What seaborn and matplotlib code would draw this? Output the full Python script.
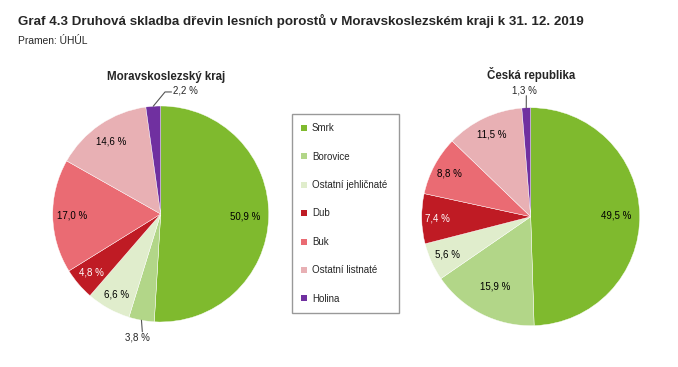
import numpy as np
import matplotlib
matplotlib.use("Agg")
import matplotlib.pyplot as plt
from matplotlib import font_manager
from matplotlib.lines import Line2D
import seaborn as sns

# data
categories = ["Smrk", "Borovice", "Ostatní jehličnaté", "Dub", "Buk",
              "Ostatní listnaté", "Holina"]
msk_values = [50.9, 3.8, 6.6, 4.8, 17.0, 14.6, 2.2]
cr_values = [49.5, 15.9, 5.6, 7.4, 8.8, 11.5, 1.3]
pie_titles = ["Moravskoslezský kraj", "Česká republika"]

colors = ["#7fba2e", "#b2d688", "#e0edcc", "#bf1b24", "#ea6b73", "#e8b0b4", "#7030a0"]

sns.set_theme(style="white")
names = {f.name for f in font_manager.fontManager.ttflist}
narrow = "Liberation Sans Narrow" if "Liberation Sans Narrow" in names else None
plt.rcParams["font.family"] = ["Liberation Sans", "DejaVu Sans"]

W, H = 678, 367
fig = plt.figure(figsize=(W / 100, H / 100), dpi=100)
fig.patch.set_facecolor("white")

title = "Graf 4.3 Druhová skladba dřevin lesních porostů v Moravskoslezském kraji k 31. 12. 2019"
if narrow:
    fig.text(18 / W, 1 - 21 / H, title, family=narrow, fontsize=11.6, fontweight="bold",
             va="center", ha="left")
    fig.text(18 / W, 1 - 41 / H, "Pramen: ÚHÚL", family=narrow, fontsize=9, va="center", ha="left")
else:
    fig.text(18 / W, 1 - 21 / H, title, fontsize=9.6, fontweight="bold", va="center", ha="left")
    fig.text(18 / W, 1 - 41 / H, "Pramen: ÚHÚL", fontsize=7.4, va="center", ha="left")


def pie_axes(cx, cy, r):
    return fig.add_axes([(cx - r) / W, (H - cy - r) / H, 2 * r / W, 2 * r / H])


def fmt(v):
    return f"{v:.1f}".replace(".", ",") + " %"


def draw_pie(ax, values, title, title_xy, label_r, leaders):
    wedges, _ = ax.pie(values, colors=colors, startangle=90, counterclock=False,
                       radius=1, wedgeprops=dict(edgecolor="white", linewidth=0.3))
    ax.set_xlim(-1, 1)
    ax.set_ylim(-1, 1)
    ax.set_aspect("equal")
    ax.axis("off")
    ax.text(title_xy[0], title_xy[1], title, fontsize=8.3, fontweight="bold",
            ha="center", va="center")
    for i, (w, v) in enumerate(zip(wedges, values)):
        ang = np.deg2rad((w.theta1 + w.theta2) / 2)
        ex, ey = np.cos(ang), np.sin(ang)
        if i in leaders:
            pts, tx, ty, ha = leaders[i]
            px = [ex] + [p[0] for p in pts]
            py = [ey] + [p[1] for p in pts]
            ax.plot(px, py, color="#555555", lw=0.8, clip_on=False)
            ax.text(tx, ty, fmt(v), fontsize=7, ha=ha, va="center", clip_on=False)
        else:
            r = label_r[i]
            ax.text(r * ex, r * ey, fmt(v), fontsize=7, ha="center", va="center",
                    color="white" if categories[i] == "Dub" else "black")


ax1 = pie_axes(160.7, 214, 108)
draw_pie(ax1, msk_values, pie_titles[0], (0.05, 1.27),
         [0.78, 0.84, 0.85, 0.84, 0.82, 0.81, 0.84],
         {1: ([(-0.17, -1.09)], -0.22, -1.14, "center"),
          6: ([(0.04, 1.13), (0.10, 1.13)], 0.11, 1.14, "left")})

ax2 = pie_axes(530.7, 216.7, 109)
draw_pie(ax2, cr_values, pie_titles[1], (0.0, 1.30),
         [0.78, 0.72, 0.84, 0.86, 0.84, 0.83, 0.84],
         {6: ([(-0.04, 1.11)], -0.06, 1.16, "center")})

handles = [Line2D([], [], ls="none", marker="s", markersize=4, color=c, markeredgewidth=0)
           for c in colors]
leg = fig.legend(handles, categories, loc="upper left",
                 bbox_to_anchor=(292 / W, 1 - 117.5 / H, 107 / W, 0.01), mode="expand",
                 fontsize=7, labelspacing=1.9, borderpad=0.95, handlelength=0.6,
                 handletextpad=0.5, borderaxespad=0, fancybox=False, frameon=True)
leg.get_frame().set_edgecolor("#808080")
leg.get_frame().set_linewidth(1.0)

fig.savefig("out.png", dpi=100, facecolor="white")
